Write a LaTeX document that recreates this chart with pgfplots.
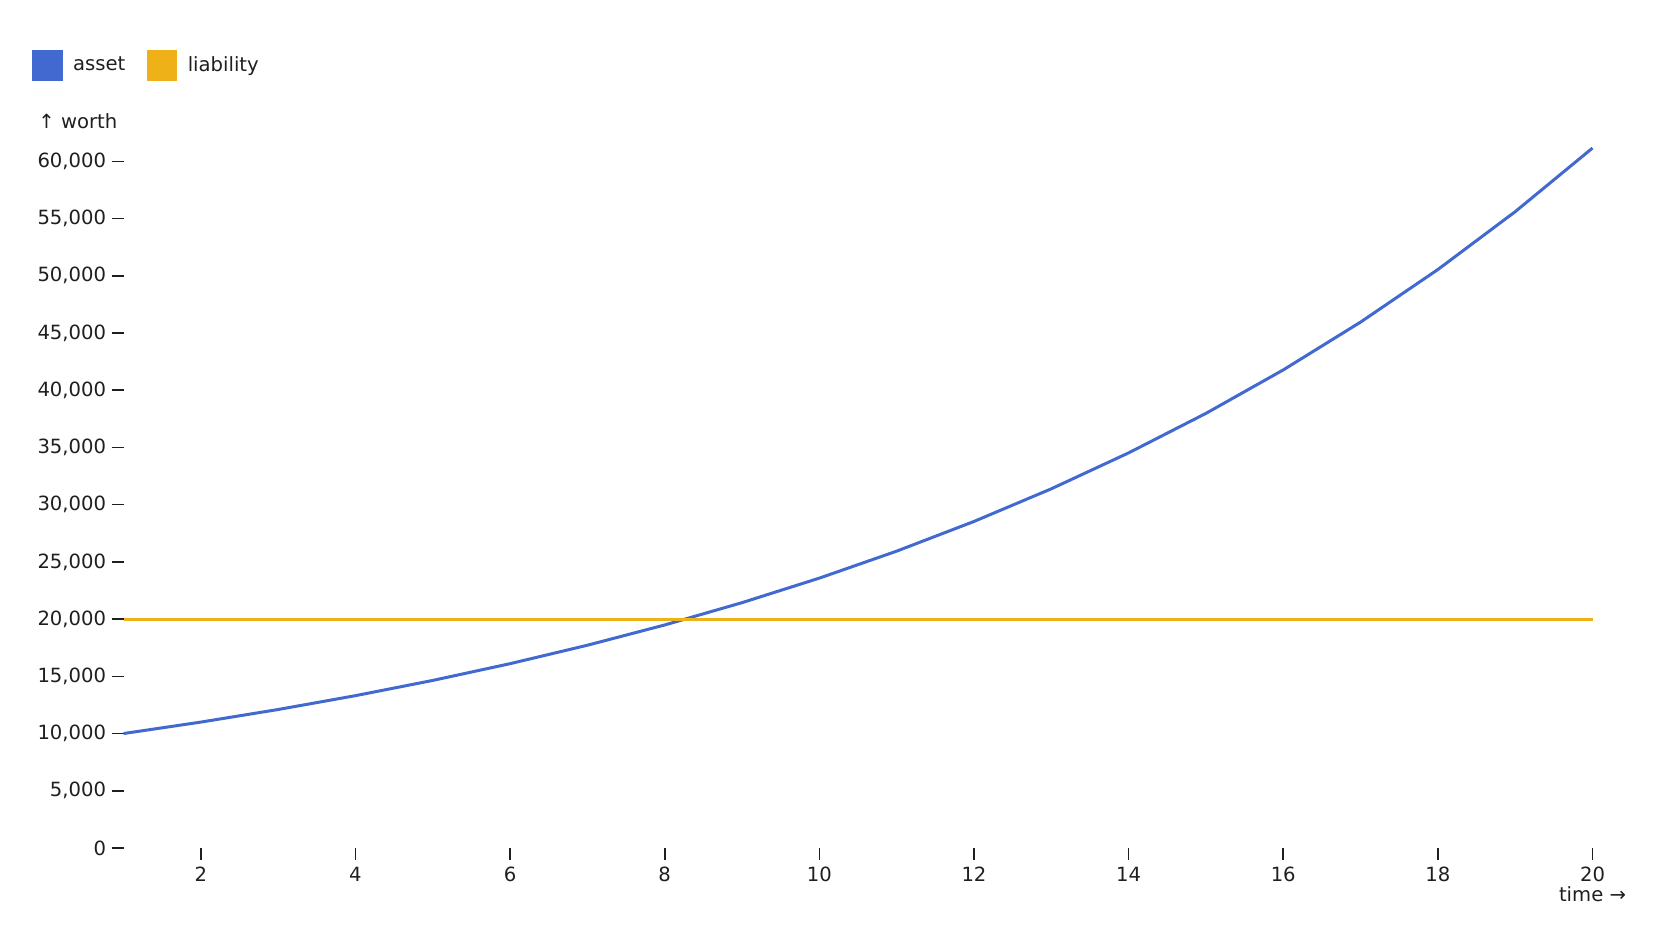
\documentclass[border=0pt]{standalone}
\usepackage{pgfplots}
\pgfplotsset{compat=1.18}
\usepackage{fontspec}
\setmainfont{DejaVu Sans}

\definecolor{assetblue}{HTML}{4269D0}
\definecolor{liabyellow}{HTML}{EFB118}
\definecolor{ink}{HTML}{1F1F1F}

\begin{document}
\fontsize{9.8pt}{12pt}\selectfont
\begin{tikzpicture}
% page is 832pt x 470pt, i.e. half a pixel of the reference per pt
\useasboundingbox (0,0) rectangle (832pt,470pt);
\begin{axis}[
    at={(61.75pt,46pt)},
    anchor=south west,
    scale only axis,
    width=734.5pt,
    height=343.35pt,
    xmin=1, xmax=20,
    ymin=0, ymax=60000,
    clip=false,
    axis lines*=left,
    axis line style={draw=none},
    tick align=outside,
    major tick length=6pt,
    tick style={ink, line width=0.8pt},
    xtick={2,4,...,20},
    ytick={0,5000,...,60000},
    scaled y ticks=false,
    /pgf/number format/.cd, 1000 sep={,}, assume math mode=true,
    /pgfplots/.cd,
    ticklabel style={font=\fontsize{9.8pt}{12pt}\selectfont, text=ink},
    xticklabel style={anchor=base, inner sep=0pt, yshift=-10.7pt},
    yticklabel style={anchor=east, inner sep=0pt, xshift=-2.5pt},
    ylabel={↑ worth},
    xlabel={time →},
    every axis y label/.style={at={(axis description cs:0,1)}, anchor=west,
        inner sep=0pt, xshift=-42.75pt, yshift=20.15pt, text=ink},
    every axis x label/.style={at={(axis description cs:1,0)}, anchor=base,
        inner sep=0pt, yshift=-26.85pt, text=ink},
    legend columns=2,
    legend image code/.code={\fill[#1] (0pt,-6.8pt) rectangle (13.6pt,6.8pt);},
    legend style={draw=none, fill=none, at={(axis description cs:0,1)},
        anchor=north west, xshift=-45.75pt, yshift=55.65pt, inner sep=0pt,
        nodes={inner sep=0pt, text=ink},
        /tikz/every odd column/.append style={column sep=5.3pt},
        /tikz/every even column/.append style={column sep=10.8pt}},
    legend cell align=left,
    ]
\addplot[color=assetblue, line width=1.5pt, mark=none] table {
    t     worth
    1     10000
    2     11000
    3     12100
    4     13310
    5     14641
    6     16105
    7     17716
    8     19487
    9     21436
    10    23579
    11    25937
    12    28531
    13    31384
    14    34523
    15    37975
    16    41772
    17    45950
    18    50545
    19    55599
    20    61159
};
\addlegendentry{asset}
\addplot[color=liabyellow, line width=1.5pt, mark=none] table {
    t     worth
    1     20000
    20    20000
};
\addlegendentry{liability}
\end{axis}
\end{tikzpicture}
\end{document}
